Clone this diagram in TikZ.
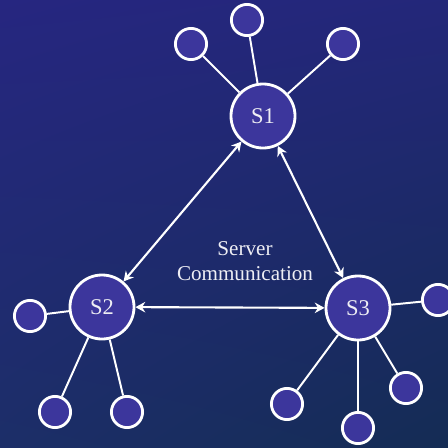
\documentclass[tikz,border=0pt]{standalone}
\usepackage{fontspec}
\setmainfont{Liberation Serif}
\usepackage{tikz}
\usetikzlibrary{arrows.meta,shadings}
\definecolor{DeepBlue}  {RGB}{38 , 38,128}
\definecolor{NightBlue} {RGB}{20 , 44, 84}
\definecolor{SideBlue}  {RGB}{28 , 46,104}
\definecolor{NodeFill}  {RGB}{60 , 54,156}
\definecolor{SoftWhite} {RGB}{238,238,244}
\tikzset{
  server/.style={
    circle, fill=NodeFill, draw=white, line width=2pt,
    minimum size=1.6cm, inner sep=0pt,
    text=SoftWhite, font=\fontsize{16}{18}\selectfont
  },
  client/.style={
    circle, fill=NodeFill, draw=white, line width=2pt,
    minimum size=0.78cm, inner sep=0pt
  },
  link/.style={draw=white, line width=1.4pt},
  talk/.style={{Stealth[length=7pt,width=7.5pt]}-{Stealth[length=7pt,width=7.5pt]},
               draw=white, line width=1.5pt}
}
\begin{document}
\begin{tikzpicture}[x=0.025cm, y=-0.025cm]
  % background
  \shade[upper left=DeepBlue, upper right=DeepBlue!85!NightBlue,
         lower left=SideBlue, lower right=NightBlue]
        (0,0) rectangle (448,448);
  \useasboundingbox (0,0) rectangle (448,448);

  % servers
  \node[server] (s1) at (263,116) {S1};
  \node[server] (s2) at (102,307) {S2};
  \node[server] (s3) at (358,308) {S3};

  % clients
  \node[client] (a1) at (191,44)  {};
  \node[client] (a2) at (247,20)  {};
  \node[client] (a3) at (343,44)  {};
  \node[client] (b1) at (30,316)  {};
  \node[client] (b2) at (55,412)  {};
  \node[client] (b3) at (127,412) {};
  \node[client] (c1) at (438,300) {};
  \node[client] (c2) at (287,404) {};
  \node[client] (c3) at (358,428) {};
  \node[client] (c4) at (406,388) {};

  \foreach \a/\b in {s1/a1, s1/a2, s1/a3, s2/b1, s2/b2, s2/b3,
                     s3/c1, s3/c2, s3/c3, s3/c4}
    \draw[link] (\a) -- (\b);

  \foreach \a/\b in {s2/s1, s1/s3, s2/s3}
    \draw[talk] (\a) -- (\b);

  \node[text=SoftWhite, align=center, font=\fontsize{15}{18}\selectfont]
    (lbl) at (245,261) {Server\\Communication};
\end{tikzpicture}
\end{document}
